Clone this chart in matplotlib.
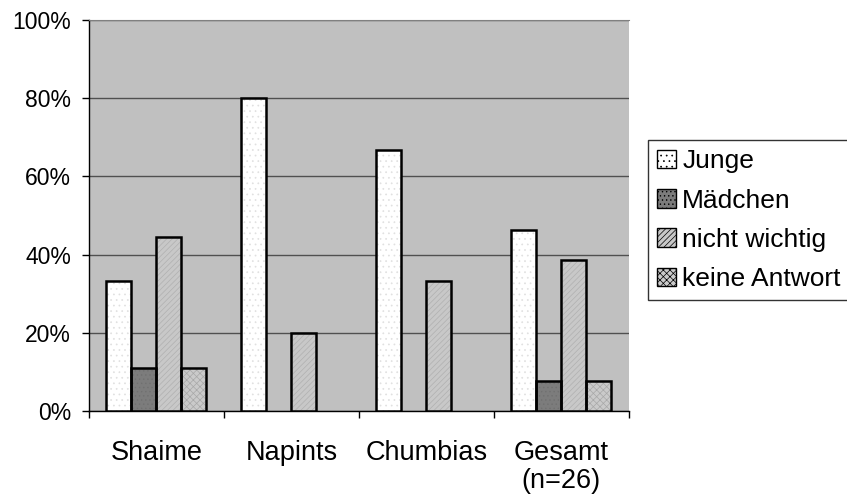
import matplotlib.pyplot as plt
import numpy as np

plt.rcParams['font.family'] = ['Liberation Sans', 'DejaVu Sans']
plt.rcParams['hatch.linewidth'] = 0.5

categories = ["Shaime", "Napints", "Chumbias", "Gesamt\n(n=26)"]
series = ["Junge", "Mädchen", "nicht wichtig", "keine Antwort"]
junge = [33.3, 80.0, 66.7, 46.2]
maedchen = [11.1, 0.0, 0.0, 7.7]
nicht_wichtig = [44.4, 20.0, 33.3, 38.5]
keine_antwort = [11.1, 0.0, 0.0, 7.7]

values = [junge, maedchen, nicht_wichtig, keine_antwort]
faces = ['#ffffff', '#7c7c7c', '#c8c8c8', '#cacaca']
hatches = ['...', '....', '//////', 'xxxxx']
hatch_cols = ['#e0e0e0', '#707070', '#b0b0b0', '#a8a8a8']

fig = plt.figure(figsize=(8.47, 5), dpi=100)
ax = fig.add_axes([0.105, 0.178, 0.6375, 0.782])
ax.set_facecolor('#c0c0c0')

x = np.arange(len(categories))
w = 0.185
handles = []
for i, vals in enumerate(values):
    pos = x - 1.5 * w + i * w
    vals = np.array(vals)
    # pattern layer
    ax.bar(pos, vals, width=w, color=faces[i], hatch=hatches[i],
           edgecolor=hatch_cols[i], linewidth=0, zorder=3)
    # outline (skip empty bars)
    nz = vals > 0
    ax.bar(pos[nz], vals[nz], width=w, fill=False, edgecolor='black',
           linewidth=1.8, zorder=4)
    handles.append(plt.Rectangle((0, 0), 1, 1, facecolor=faces[i], hatch=hatches[i],
                                 edgecolor=hatch_cols[i], linewidth=0))

ax.set_xlim(-0.5, 3.5)
ax.set_ylim(0, 100)
ax.set_yticks([0, 20, 40, 60, 80, 100])
ax.set_yticklabels(['0%', '20%', '40%', '60%', '80%', '100%'], fontsize=16.5)
ax.yaxis.grid(True, color='#505050', linewidth=1)
ax.set_axisbelow(True)

ax.set_xticks(x)
ax.set_xticklabels(categories, fontsize=19.5, linespacing=1.08)
ax.set_xticks(np.arange(-0.5, 4, 1), minor=True)
ax.tick_params(axis='x', which='major', length=0, pad=21)
ax.tick_params(axis='x', which='minor', length=5, width=1)
ax.tick_params(axis='y', length=5, width=1, pad=8)

ax.spines['right'].set_visible(False)
ax.spines['top'].set_color('#808080')
for s in ['left', 'bottom']:
    ax.spines[s].set_linewidth(1)

leg = fig.legend(handles, series, loc='upper left', bbox_to_anchor=(0.765, 0.72),
                 fontsize=19, frameon=True, fancybox=False, handlelength=0.7,
                 handleheight=0.7, handletextpad=0.25, labelspacing=0.58,
                 borderpad=0.35, borderaxespad=0)
leg.get_frame().set_edgecolor('black')
leg.get_frame().set_linewidth(1)
for h in leg.legend_handles:
    h.set_edgecolor('black')
    h.set_linewidth(1)

fig.savefig('out.png', dpi=100)
